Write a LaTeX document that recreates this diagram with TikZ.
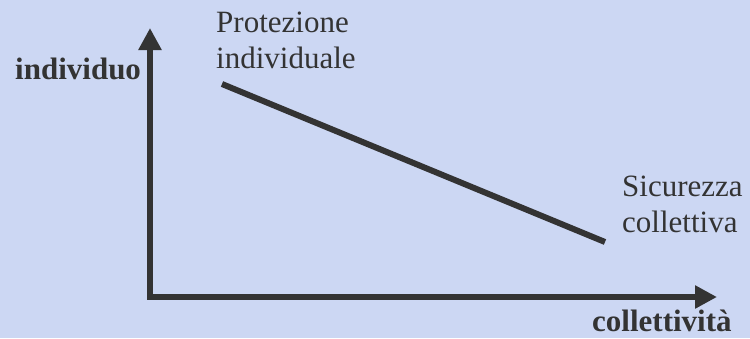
\documentclass[tikz,border=0pt]{standalone}
\usepackage{fontspec}
\setmainfont{Liberation Serif}
\usepackage{xcolor}
\usetikzlibrary{arrows.meta}
\definecolor{bgblue}{RGB}{204,215,243}
\definecolor{ink}{RGB}{51,51,51}

\begin{document}
\begin{tikzpicture}[x=1pt, y=-1pt,
  axis/.style={ink, line width=6pt, line cap=rect, -{Triangle[width=22pt,length=22pt]}},
  lbl/.style={ink, inner sep=0pt, anchor=base west, align=left, font=\fontsize{31}{36}\selectfont}]
\fill[bgblue] (0,0) rectangle (750,338);
\useasboundingbox (0,0) rectangle (750,338);
\coordinate (origin) at (150,297);
\coordinate (ytip) at (150,28);
\coordinate (xtip) at (717,297);
\draw[axis] (origin) -- (ytip);
\draw[axis] (origin) -- (xtip);
\node[lbl, font=\fontsize{31}{36}\bfseries] (ylab) at (15,79) {individuo};
\node[lbl, font=\fontsize{31}{36}\bfseries] (xlab) at (592,331) {collettività};
% base of a two-line node is its last line
\node[lbl] (prot) at (216,68) {Protezione\\individuale};
\node[lbl] (sic) at (622,232) {Sicurezza\\collettiva};
\coordinate (p) at (222,84);
\coordinate (s) at (605,242);
\draw[ink, line width=6pt] (p) -- (s);
\end{tikzpicture}
\end{document}
